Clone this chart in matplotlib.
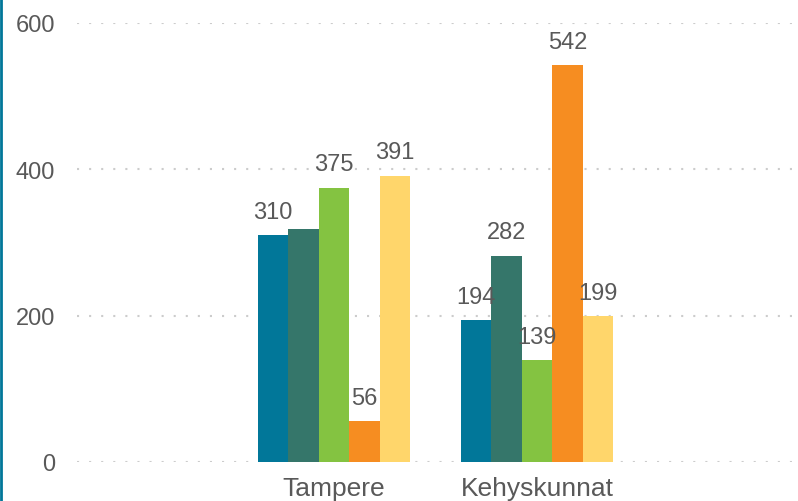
import matplotlib
matplotlib.use("Agg")
import matplotlib.pyplot as plt
import numpy as np
from matplotlib.lines import Line2D

categories = ["Tampere", "Kehyskunnat"]
series_values = [
    [310, 194],
    [318, 282],
    [375, 139],
    [56, 542],
    [391, 199],
]
# second Tampere bar has no label in the original
series_labels = [
    ["310", "194"],
    [None, "282"],
    ["375", "139"],
    ["56", "542"],
    ["391", "199"],
]
colors = ["#017799", "#35766a", "#84c341", "#f68d21", "#ffd66b"]
yticks = [0, 200, 400, 600]

plt.rcParams['font.family'] = ['Liberation Sans', 'DejaVu Sans']
text_color = "#595959"
fs = 17

fig = plt.figure(figsize=(7.98, 5.02), dpi=100)
ax = fig.add_axes([77 / 798, 1 - 463 / 502, 1 - 77 / 798, (463 - 24) / 502])

x = np.arange(len(categories))
w = 0.15
n = len(series_values)
for i, (vals, labs) in enumerate(zip(series_values, series_labels)):
    pos = x + (i - (n - 1) / 2) * w
    ax.bar(pos, vals, width=w, color=colors[i], zorder=3)
    for p, v, lab in zip(pos, vals, labs):
        if lab is None:
            continue
        ax.annotate(lab, (p, v), xytext=(0, 9), textcoords="offset points",
                    ha="center", va="bottom", fontsize=fs, color=text_color, zorder=4)

ax.set_xlim(-257 / 203, 1 + 261 / 203)
ax.set_ylim(0, 600)
ax.set_yticks(yticks)
ax.set_xticks(x)
ax.set_xticklabels(categories)
ax.tick_params(axis="both", length=0, labelsize=fs, labelcolor=text_color)
ax.tick_params(axis="y", pad=16)
ax.tick_params(axis="x", pad=10, labelsize=19)
ax.yaxis.grid(True, color="#cccccc", linewidth=1.5, linestyle=(0, (1, 4.8)), zorder=0)
ax.set_axisbelow(True)
for s in ax.spines.values():
    s.set_visible(False)

# teal accent line on left edge
fig.add_artist(Line2D([0.0015, 0.0015], [0, 1], transform=fig.transFigure,
                      color="#017799", linewidth=2))

fig.savefig("out.png", dpi=100)
